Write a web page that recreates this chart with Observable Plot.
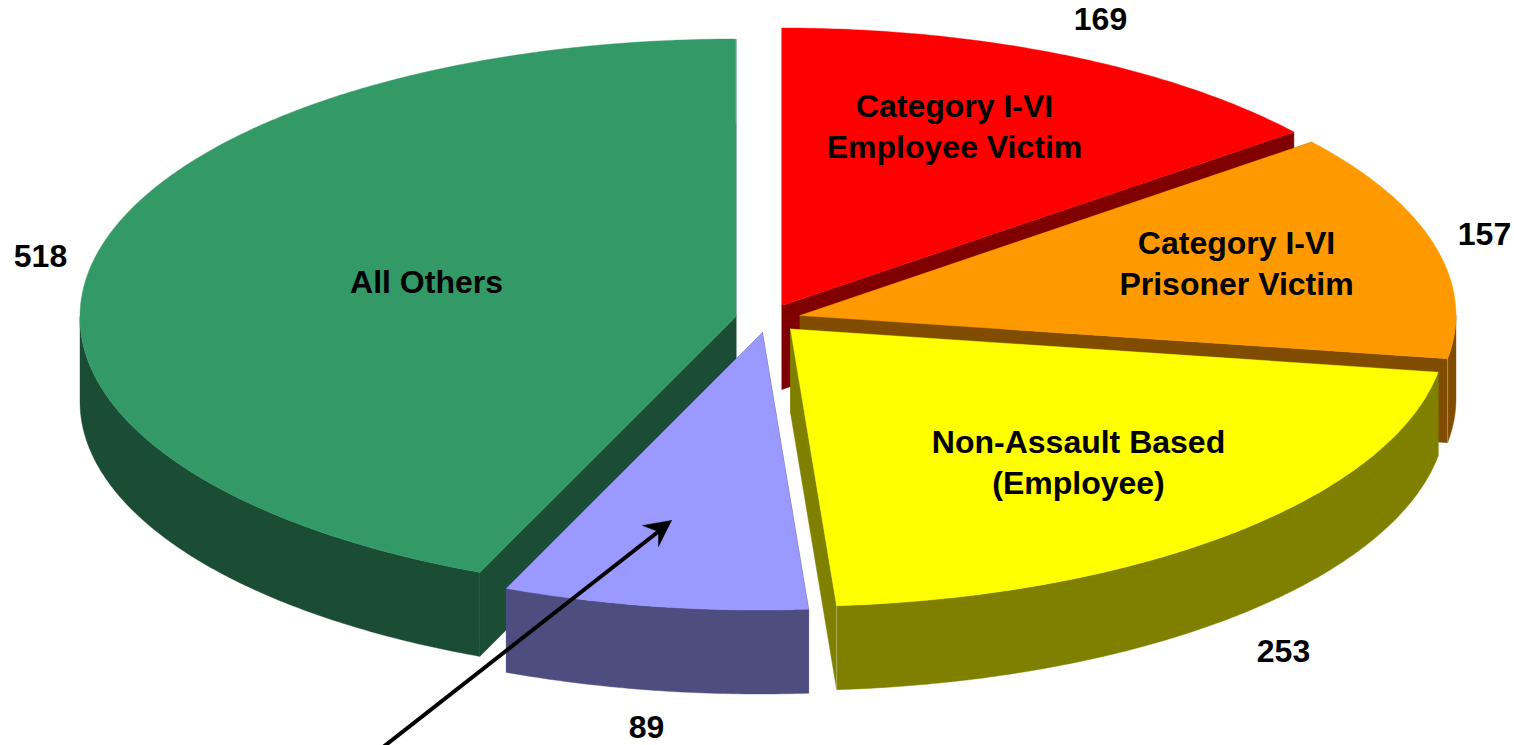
<!DOCTYPE html>
<html>
<head>
<meta charset="utf-8">
<style>
html,body{margin:0;padding:0;background:#fff;overflow:hidden}
svg{display:block}
</style>
<script src="https://cdn.jsdelivr.net/npm/d3@7"></script>
<script src="https://cdn.jsdelivr.net/npm/@observablehq/plot@0.6"></script>
</head>
<body>
<div id="chart"></div>
<script>
// Data, clockwise from twelve o'clock
const categories = ["Category I-VI Employee Victim", "Category I-VI Prisoner Victim", "Non-Assault Based (Employee)", "Arrow slice", "All Others"];
const values = [169, 157, 253, 89, 518];

// Styles
const topColors  = ["#ff0000", "#ff9900", "#ffff00", "#9999ff", "#339966"];
const wallColors = ["#800000", "#804d00", "#808000", "#4d4d80", "#1a4d33"];

// Layout of the tilted pie: each slice's exploded apex
const apexX = [781.5, 799.5, 790, 762, 735.5];
const apexY = [305, 315, 328.5, 332, 316];
const radiusX = 656, radiusY = 277.5, depth = 84;
const frontLean = 0.009; // the front of the pie leans slightly left in the reference
const drawOrder = [0, 1, 4, 2, 3];
const seamSlices = [1, 2, 4];

// Text
const insideLabels = ["Category I-VI\nEmployee Victim", "Category I-VI\nPrisoner Victim", "Non-Assault Based\n(Employee)", "All Others"];
const insideX = [954, 1236, 1078, 426];
const insideY = [127.5, 264.5, 463, 282.5];
const valueLabels = ["169", "157", "253", "89", "518"];
const valueX = [1100, 1484, 1283, 646, 40];
const valueY = [19, 234, 651, 727.5, 256];

// Annotation arrow
const arrowFrom = [368, 758];
const arrowTo = [671, 520];
const arrowBarbA = [642, 525];
const arrowBarbB = [658, 546];
const arrowNotch = [658, 531];

const total = d3.sum(values);
const cumul = d3.cumsum(values);
const angleAt = (v) => (v / total) * 2 * Math.PI;

function rim(i, a0, a1, dy = 0) {
  const n = Math.max(2, Math.ceil((a1 - a0) / 0.01));
  return d3.range(n + 1).map((k) => {
    const a = a0 + ((a1 - a0) * k) / n;
    const down = -radiusY * Math.cos(a);
    return {x: apexX[i] + radiusX * Math.sin(a) - frontLean * Math.max(0, down), y: apexY[i] + down + dy};
  });
}

const shape = (pts, color) =>
  Plot.line(pts, {x: "x", y: "y", fill: color, stroke: color, strokeWidth: 0.4, curve: "linear"});

const marks = [];
for (const i of drawOrder) {
  const a0 = i === 0 ? 0 : angleAt(cumul[i - 1]);
  const a1 = angleAt(cumul[i]);
  const top = rim(i, a0, a1);
  const apex = {x: apexX[i], y: apexY[i]};
  const apexLow = {x: apexX[i], y: apexY[i] + depth};
  const first = top[0], last = top[top.length - 1];
  // radial walls
  marks.push(shape([apex, first, {x: first.x, y: first.y + depth}, apexLow, apex], wallColors[i]));
  marks.push(shape([apex, last, {x: last.x, y: last.y + depth}, apexLow, apex], wallColors[i]));
  // outer wall: only the front half of the rim faces the viewer
  const w0 = Math.max(a0, Math.PI / 2), w1 = Math.min(a1, 1.5 * Math.PI);
  if (w1 > w0) {
    const wallTop = rim(i, w0, w1);
    const wallBottom = rim(i, w0, w1, depth).reverse();
    marks.push(shape([...wallTop, ...wallBottom, wallTop[0]], wallColors[i]));
  }
  // top face
  marks.push(shape([apex, ...top, apex], topColors[i]));
  // faint highlight on the corner where the radial wall meets the rim
  if (seamSlices.includes(i)) {
    marks.push(Plot.line([last, {x: last.x, y: last.y + depth}], {x: "x", y: "y", stroke: "#fff", strokeOpacity: 0.3, strokeWidth: 1}));
  }
}

const pt = (p) => ({x: p[0], y: p[1]});
marks.push(Plot.line([pt(arrowFrom), pt(arrowNotch)], {x: "x", y: "y", stroke: "#000", strokeWidth: 4}));
marks.push(Plot.line([pt(arrowTo), pt(arrowBarbA), pt(arrowNotch), pt(arrowBarbB), pt(arrowTo)],
  {x: "x", y: "y", fill: "#000", stroke: "#000", strokeWidth: 0.5, curve: "linear"}));

const textStyle = {fontFamily: "'Liberation Sans', Arial, sans-serif", fontWeight: "bold", fontSize: 32, fill: "#000", textAnchor: "middle"};
marks.push(Plot.text(insideLabels, {x: (d, i) => insideX[i], y: (d, i) => insideY[i] - 3.5, text: (d) => d, lineHeight: 41 / 32, lineAnchor: "middle", ...textStyle}));
marks.push(Plot.text(valueLabels, {x: (d, i) => valueX[i], y: (d, i) => valueY[i], text: (d) => d, lineAnchor: "middle", ...textStyle}));

const chart = Plot.plot({
  width: 1514,
  height: 745,
  margin: 0,
  style: {background: "#fff"},
  x: {domain: [0, 1514], range: [0, 1514], axis: null},
  y: {domain: [0, 745], range: [0, 745], axis: null},
  marks
});
document.getElementById("chart").append(chart);
</script>
</body>
</html>
